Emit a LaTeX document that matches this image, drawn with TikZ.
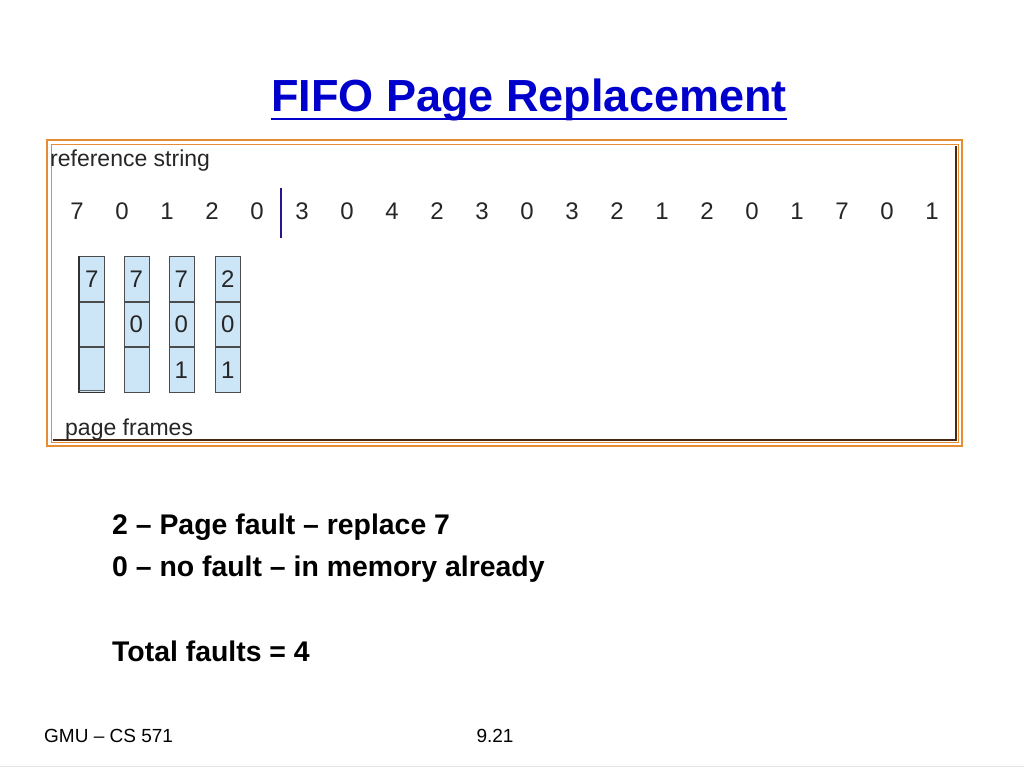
\documentclass[tikz,border=0pt]{standalone}
\usepackage{fontspec}
\setmainfont{Liberation Sans}
\definecolor{titleblue}{RGB}{0,0,204}
\definecolor{frameorange}{RGB}{230,140,50}
\definecolor{framedark}{RGB}{70,40,20}
\definecolor{cellblue}{RGB}{204,230,248}
\definecolor{barblue}{RGB}{40,20,140}
\begin{document}
\begin{tikzpicture}[x=1pt,y=-1pt,
  refdigit/.style={font=\fontsize{24}{24}\selectfont, text=black!85, inner sep=0pt},
  cell/.style={draw=black!70, line width=0.8pt, fill=cellblue, minimum width=25pt, minimum height=44.7pt, inner sep=0pt, anchor=north west, font=\fontsize{24}{24}\selectfont, text=black!85},
  bodytext/.style={font=\bfseries\fontsize{28.4}{28.4}\selectfont, anchor=west, inner sep=0pt},
  foot/.style={font=\fontsize{19}{19}\selectfont, inner sep=0pt}]
\useasboundingbox (0,0) rectangle (1024,768);
\fill[white] (0,0) rectangle (1024,768);
% title
\node[font=\bfseries\fontsize{45}{45}\selectfont, text=titleblue, inner sep=0pt] (title) at (529,100) {FIFO Page Replacement};
\draw[titleblue, line width=2.8pt] (title.south west |- 0,119) -- (title.south east |- 0,119);
% frame
\draw[frameorange, line width=1.4pt] (47,140) rectangle (962,446);
\draw[frameorange, line width=1pt] (51,144) rectangle (958,442);
\draw[framedark, line width=1.2pt] (956,146) -- (956,440) -- (53,440);
\draw[framedark, line width=2pt] (956,256) -- (956,390);
% labels
\node[font=\fontsize{23}{23}\selectfont, text=black!85, anchor=west, inner sep=0pt] (refstr) at (50,161) {reference string};
\node[font=\fontsize{23}{23}\selectfont, text=black!85, anchor=west, inner sep=0pt] (pf) at (65,430) {page frames};
% reference string digits
\foreach \d [count=\i from 0] in {7,0,1,2,0,3,0,4,2,3,0,3,2,1,2,0,1,7,0,1}
  \node[refdigit] (r\i) at ({77+45*\i},211) {\d};
\draw[barblue, line width=1.2pt] (281,188) -- (281,238);
% frames
\foreach \c/\x/\a/\b/\e in {1/79/7//,2/123.5/7/0/,3/168.5/7/0/1,4/215/2/0/1}{
  \node[cell] (f\c a) at (\x,256) {\a};
  \node[cell] (f\c b) at (f\c a.south west) {\b};
  \node[cell] (f\c c) at (f\c b.south west) {\e};
}
\draw[black!80, line width=1.2pt] (f1a.north west) -- (f1c.south west) -- (f1c.south east);
\draw[black!60, line width=0.6pt] ([yshift=2pt]f1c.south west) -- ([yshift=2pt]f1c.south east);
% body text
\node[bodytext] (t1) at (112,527) {2 – Page fault – replace 7};
\node[bodytext] (t2) at (112,569) {0 – no fault – in memory already};
\node[bodytext] (t3) at (112,651) {Total faults = 4};
% footer
\node[foot, anchor=west] (f1) at (44,736) {GMU – CS 571};
\node[foot] (f2) at (495,736) {9.21};
\draw[black!10, line width=1pt] (0,766) -- (1024,766);
\end{tikzpicture}
\end{document}
